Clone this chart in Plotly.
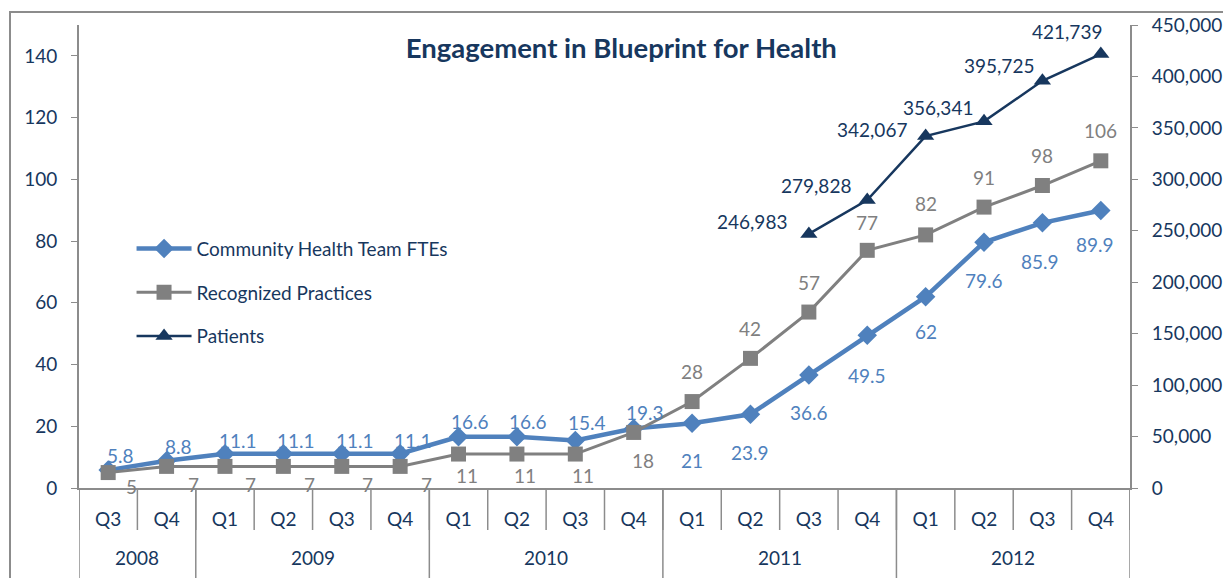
import plotly.graph_objects as go

years = ["2008", "2008", "2009", "2009", "2009", "2009", "2010", "2010", "2010", "2010",
         "2011", "2011", "2011", "2011", "2012", "2012", "2012", "2012"]
quarters = ["Q3", "Q4", "Q1", "Q2", "Q3", "Q4", "Q1", "Q2", "Q3", "Q4",
            "Q1", "Q2", "Q3", "Q4", "Q1", "Q2", "Q3", "Q4"]

fte = [5.8, 8.8, 11.1, 11.1, 11.1, 11.1, 16.6, 16.6, 15.4, 19.3,
       21, 23.9, 36.6, 49.5, 62, 79.6, 85.9, 89.9]
practices = [5, 7, 7, 7, 7, 7, 11, 11, 11, 18, 28, 42, 57, 77, 82, 91, 98, 106]
patients = [246983, 279828, 342067, 356341, 395725, 421739]
patients_start = 12

cats = [f"{y} {q}" for y, q in zip(years, quarters)]

# label offsets (px, relative to the point; dy positive = up)
fte_dx = [12, 12, 13, 13, 13, 13, 11, 11, 12, 11, 0, 0, 0, 0, 0, 0, -2, -6]
fte_dy = [15, 14, 13, 13, 13, 13, 15, 15, 18, 16, -37, -38, -37, -40, -35, -38, -39, -34]
prac_dx = [23, 27, 26, 26, 26, 26, 8, 8, 8, 9, 0, 0, 0, 0, 0, 0, 0, 0]
prac_dy = [-14, -18, -18, -18, -18, -18, -21, -21, -21, -28, 30, 30, 30, 28, 31, 30, 30, 30]
pat_dx = [-57, -51, -54, -46, -43, -34]
pat_dy = [12, 15, 7, 14, 15, 23]

NAVY = "#17375E"
BLUE = "#4F81BD"
GRAY = "#808080"
LINE = "#8C8C8C"
FONT = "Lato, 'Open Sans', sans-serif"
FS = 19

fig = go.Figure()
fig.add_trace(go.Scatter(
    x=cats, y=fte, name="Community Health Team FTEs", legendgroup="a",
    mode="lines+markers", line=dict(color=BLUE, width=4.5),
    marker=dict(symbol="diamond", size=15, color=BLUE), cliponaxis=False,
))
fig.add_trace(go.Scatter(
    x=cats, y=practices, name="Recognized Practices", legendgroup="b",
    mode="lines+markers", line=dict(color=GRAY, width=3),
    marker=dict(symbol="square", size=15, color=GRAY), cliponaxis=False,
))
fig.add_trace(go.Scatter(
    x=cats[patients_start:], y=patients, name="Patients", legendgroup="c",
    mode="lines+markers", line=dict(color=NAVY, width=2.5),
    marker=dict(symbol="triangle-up", size=15, color=NAVY),
    yaxis="y2", cliponaxis=False,
))

annotations = []


def add_labels(xs, ys, texts, dxs, dys, color, yref):
    for x, y, t, dx, dy in zip(xs, ys, texts, dxs, dys):
        annotations.append(dict(x=x, y=y, xref="x", yref=yref, text=t,
                                showarrow=False, xshift=dx, yshift=dy,
                                xanchor="center", yanchor="middle",
                                font=dict(size=FS, color=color, family=FONT)))


add_labels(cats, fte, [f"{v:g}" for v in fte], fte_dx, fte_dy, BLUE, "y")
add_labels(cats, practices, [f"{v:g}" for v in practices], prac_dx, prac_dy, GRAY, "y")
add_labels(cats[patients_start:], patients, [f"{v:,}" for v in patients],
           pat_dx, pat_dy, NAVY, "y2")

# category boundary lines and year dividers / labels
n = len(cats)
shapes = [dict(type="rect", xref="paper", yref="paper",
               x0=(10 - 79) / 1051, x1=1.3, y0=-0.5, y1=(488 - 12) / 463,
               line=dict(color=LINE, width=2), layer="below")]
for i in range(n + 1):
    shapes.append(dict(type="line", xref="x", yref="paper", x0=i - 0.5, x1=i - 0.5,
                       y0=0, y1=-42 / 463, line=dict(color=LINE, width=1.5)))
group_edges = [0] + [i for i in range(1, n) if years[i] != years[i - 1]] + [n]
for e in group_edges:
    shapes.append(dict(type="line", xref="x", yref="paper", x0=e - 0.5, x1=e - 0.5,
                       y0=0, y1=-0.2, line=dict(color=LINE, width=1.5)))
for a, b in zip(group_edges[:-1], group_edges[1:]):
    annotations.append(dict(x=(a + b - 1) / 2, xref="x", y=-69 / 463, yref="paper",
                            text=years[a], showarrow=False, yanchor="middle",
                            font=dict(size=FS, color=NAVY, family=FONT)))

axis_font = dict(color=NAVY, size=FS, family=FONT)
fig.update_layout(
    width=1223, height=578,
    margin=dict(l=79, r=93, t=25, b=90, autoexpand=False),
    paper_bgcolor="white", plot_bgcolor="white",
    font=dict(family=FONT, color=NAVY),
    title=dict(text="<b>Engagement in Blueprint for Health</b>",
               x=0.508, xref="container", xanchor="center",
               y=1 - 48 / 578, yref="container", yanchor="middle",
               font=dict(size=27.5, color=NAVY, family=FONT)),
    showlegend=True,
    legend=dict(x=0.05, y=0.558, xanchor="left", yanchor="top",
                font=dict(size=FS, color=NAVY, family=FONT),
                bgcolor="rgba(0,0,0,0)", tracegroupgap=16, itemwidth=55),
    xaxis=dict(type="category", tickvals=cats, ticktext=quarters,
               showgrid=False, showline=True, linecolor=LINE, linewidth=2,
               tickfont=axis_font, ticks="outside", ticklen=13,
               tickcolor="rgba(0,0,0,0)", zeroline=False, range=[-0.5, n - 0.5],
               automargin=False),
    yaxis=dict(range=[0, 150], dtick=20, showgrid=False, showline=True,
               linecolor=LINE, linewidth=2, ticks="outside", ticklen=6,
               tickcolor=LINE, tickfont=axis_font, zeroline=False,
               ticklabelstandoff=10, automargin=False),
    yaxis2=dict(range=[0, 450000], dtick=50000, overlaying="y", side="right",
                showgrid=False, showline=True, linecolor=LINE, linewidth=2,
                ticks="outside", ticklen=6, tickcolor=LINE, tickformat=",",
                tickfont=axis_font, zeroline=False, ticklabelstandoff=10,
                automargin=False),
    shapes=shapes,
    annotations=annotations,
)

fig.write_html("out.html", config={"displayModeBar": False},
               post_script="document.body.style.margin='0';")
